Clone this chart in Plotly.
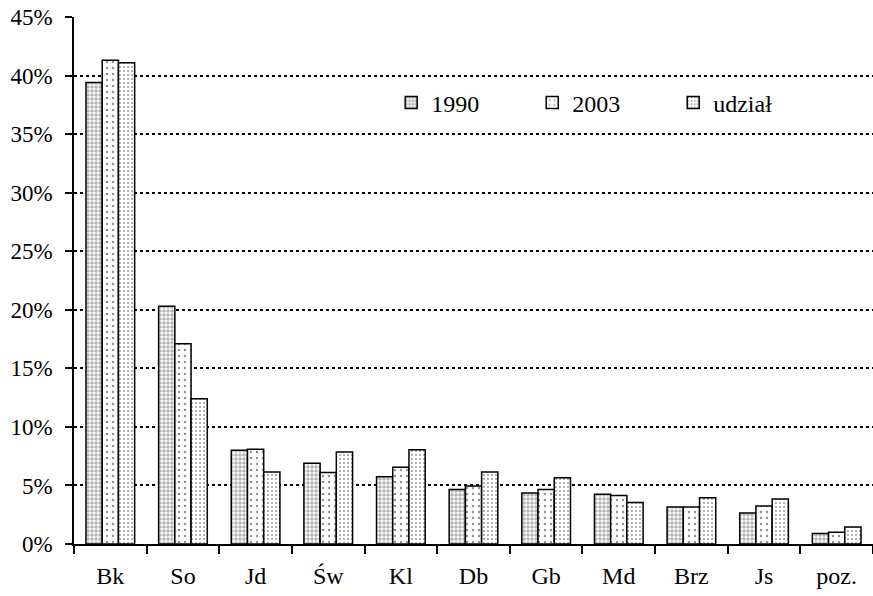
import plotly.graph_objects as go

categories = ["Bk", "So", "Jd", "Św", "Kl", "Db", "Gb", "Md", "Brz", "Js", "poz."]
share_1990 = [39.4, 20.3, 8.0, 6.9, 5.75, 4.65, 4.35, 4.25, 3.15, 2.65, 0.9]
share_2003 = [41.3, 17.1, 8.1, 6.1, 6.55, 4.95, 4.65, 4.15, 3.15, 3.25, 1.0]
share_udzial = [41.1, 12.4, 6.15, 7.85, 8.05, 6.15, 5.65, 3.55, 3.95, 3.85, 1.45]
y_ticks = [0, 5, 10, 15, 20, 25, 30, 35, 40, 45]
y_tick_labels = [f"{v}%" for v in y_ticks]

FONT = "Liberation Serif, DejaVu Serif, serif"

fig = go.Figure()

series = [
    ("1990", share_1990, dict(shape=".", fgcolor="#6a6a6a", bgcolor="white", size=4, solidity=0.6)),
    ("2003", share_2003, dict(shape=".", fgcolor="#222222", bgcolor="white", size=6, solidity=0.12)),
    ("udział", share_udzial, dict(shape=".", fgcolor="#333333", bgcolor="white", size=4, solidity=0.2)),
]

for name, vals, pat in series:
    fig.add_trace(go.Bar(
        name=name,
        x=categories,
        y=vals,
        marker=dict(color="white", pattern=pat,
                    line=dict(color="black", width=1.5)),
    ))

fig.update_layout(
    width=873, height=596,
    margin=dict(l=74, r=0, t=17, b=52, autoexpand=False),
    paper_bgcolor="white", plot_bgcolor="white",
    barmode="group", bargap=0.33, bargroupgap=0,
    font=dict(family=FONT, size=23, color="black"),
    showlegend=True,
    legend=dict(
        orientation="h", x=0.397, y=0.837, xanchor="left", yanchor="middle",
        bgcolor="rgba(0,0,0,0)", entrywidth=96, entrywidthmode="pixels",
        font=dict(family=FONT, size=24), itemwidth=30, tracegroupgap=0,
    ),
)

fig.update_xaxes(
    type="category", showline=True, linecolor="black", linewidth=1.5,
    ticks="outside", tickson="boundaries", ticklen=8, tickcolor="black", tickwidth=1.5,
    tickfont=dict(family=FONT, size=24), showgrid=False, ticklabelstandoff=9,
)
fig.update_yaxes(
    range=[0, 45], tickvals=y_ticks, ticktext=y_tick_labels,
    showline=True, linecolor="black", linewidth=1.5,
    ticks="outside", ticklen=7, tickcolor="black", tickwidth=1.5,
    showgrid=True, gridcolor="black", gridwidth=1.5, griddash="dot",
    zeroline=False, tickfont=dict(family=FONT, size=23), ticklabelstandoff=8,
)

fig.write_html("out.html")
